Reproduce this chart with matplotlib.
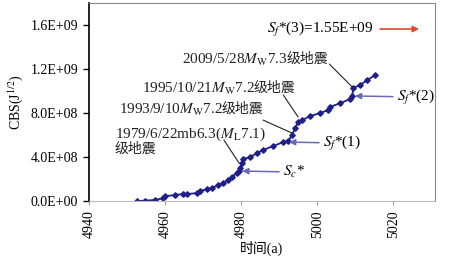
import matplotlib
matplotlib.use("Agg")
import matplotlib.pyplot as plt
from matplotlib.ticker import FuncFormatter

plt.rcParams['font.family'] = ['Liberation Serif', 'Noto Sans CJK SC']
plt.rcParams['mathtext.fontset'] = 'stix'

# time (a) and CBS values
years = [4952.6, 4954.7, 4957.4, 4959.5, 4960.0, 4962.6, 4964.7, 4965.8, 4968.4, 4969.2,
         4971.1, 4972.4, 4973.9, 4975.3, 4976.6, 4977.6, 4978.9, 4979.5, 4979.7, 4980.3,
         4980.5, 4982.4, 4984.2, 4985.8, 4988.4, 4991.1, 4992.4, 4993.4, 4994.2, 4995.0,
         4996.1, 4998.2, 5000.8, 5002.9, 5003.4, 5006.1, 5008.7, 5009.2, 5009.5, 5011.3,
         5013.2, 5015.3]
cbs = [0.000e9, 0.005e9, 0.010e9, 0.027e9, 0.045e9, 0.055e9, 0.064e9, 0.064e9, 0.073e9, 0.091e9,
       0.109e9, 0.118e9, 0.145e9, 0.164e9, 0.191e9, 0.218e9, 0.255e9, 0.273e9, 0.300e9, 0.345e9,
       0.382e9, 0.400e9, 0.436e9, 0.464e9, 0.500e9, 0.536e9, 0.545e9, 0.600e9, 0.664e9, 0.718e9,
       0.736e9, 0.773e9, 0.800e9, 0.827e9, 0.855e9, 0.891e9, 0.927e9, 0.955e9, 1.027e9, 1.055e9,
       1.100e9, 1.145e9]

xticks = [4940, 4960, 4980, 5000, 5020]
yticks = [0, 4e8, 8e8, 1.2e9, 1.6e9]

fig = plt.figure(figsize=(4.6, 2.65), dpi=100)
ax = fig.add_axes([0.193, 0.241, 0.753, 0.748])

navy = '#1f1f8a'
ax.plot(years, cbs, '-', color=navy, lw=1.3, marker='D', ms=2.8, mec=navy, mfc=navy)

ax.set_xlim(4940, 5031)
ax.set_ylim(0, 1.8e9)
ax.set_xticks(xticks)
ax.set_yticks(yticks)
ax.yaxis.set_major_formatter(FuncFormatter(lambda v, p: '%.1E' % v))
ax.tick_params(axis='x', labelrotation=90, labelsize=10, length=3, color='#999999')
ax.tick_params(axis='y', labelsize=10, length=4, width=1)
ax.spines['left'].set_linewidth(1.2)
ax.spines['bottom'].set_color('#bbbbbb')
for s in ['top', 'right']:
    ax.spines[s].set_color('#888888')
ax.set_ylabel(r'CBS(J$^{1/2}$)', fontsize=10, labelpad=4)
ax.set_xlabel('时间(a)', fontsize=10, labelpad=2)

fs = 11
# S_f*(3) with red arrow
ax.text(5014.8, 1.563e9, r'$S_f$*(3)=1.55E+09', ha='right', va='center', fontsize=fs)
ax.annotate('', xy=(5027.5, 1.563e9), xytext=(5015.8, 1.563e9),
            arrowprops=dict(arrowstyle='-|>', color='#e04a30', lw=1.2, mutation_scale=9))


def quake(xj, y, head, tail):
    # mathtext part ends where the Chinese part starts
    ax.text(xj, y, head, ha='right', va='center_baseline', fontsize=fs, color='#222222')
    ax.text(xj - 0.5, y, tail, ha='left', va='center_baseline', fontsize=fs - 1, color='#222222')


def leader(p0, p1):
    ax.annotate('', xy=p1, xytext=p0,
                arrowprops=dict(arrowstyle='-', color='#222222', lw=0.8, shrinkA=0, shrinkB=0))


quake(4992.4, 1.30e9, r'2009/5/28$M_{\rm W}$7.3', '级地震')
leader((5003.2, 1.245e9), (5009.5, 1.027e9))
quake(4983.7, 1.036e9, r'1995/10/21$M_{\rm W}$7.2', '级地震')
leader((4991.1, 0.964e9), (4995.0, 0.764e9))
quake(4975.3, 0.845e9, r'1993/9/10$M_{\rm W}$7.2', '级地震')
leader((4985.8, 0.736e9), (4993.4, 0.618e9))
ax.text(4946.8, 0.630e9, r'1979/6/22mb6.3($M_{\rm L}$7.1)', ha='left', va='center_baseline',
        fontsize=fs, color='#222222')
ax.text(4946.8, 0.490e9, '级地震', ha='left', va='center_baseline', fontsize=fs - 1,
        color='#222222')
leader((4975.5, 0.555e9), (4979.5, 0.345e9))

# blue arrows
blue = '#6a6ab8'
ax.annotate(r'$S_f$*(1)', xy=(4992.6, 0.536e9), xytext=(5001.6, 0.527e9),
            ha='left', va='center', fontsize=fs,
            arrowprops=dict(arrowstyle='-|>', color=blue, lw=1.1, mutation_scale=9, shrinkA=1, shrinkB=0))
ax.annotate(r'$S_c$*', xy=(4980.3, 0.273e9), xytext=(4991.1, 0.264e9),
            ha='left', va='center', fontsize=fs,
            arrowprops=dict(arrowstyle='-|>', color=blue, lw=1.1, mutation_scale=9, shrinkA=1, shrinkB=0))
ax.annotate(r'$S_f$*(2)', xy=(5009.9, 0.955e9), xytext=(5021.0, 0.945e9),
            ha='left', va='center', fontsize=fs,
            arrowprops=dict(arrowstyle='-|>', color=blue, lw=1.1, mutation_scale=9, shrinkA=1, shrinkB=0))

fig.savefig('out.png', dpi=100)
